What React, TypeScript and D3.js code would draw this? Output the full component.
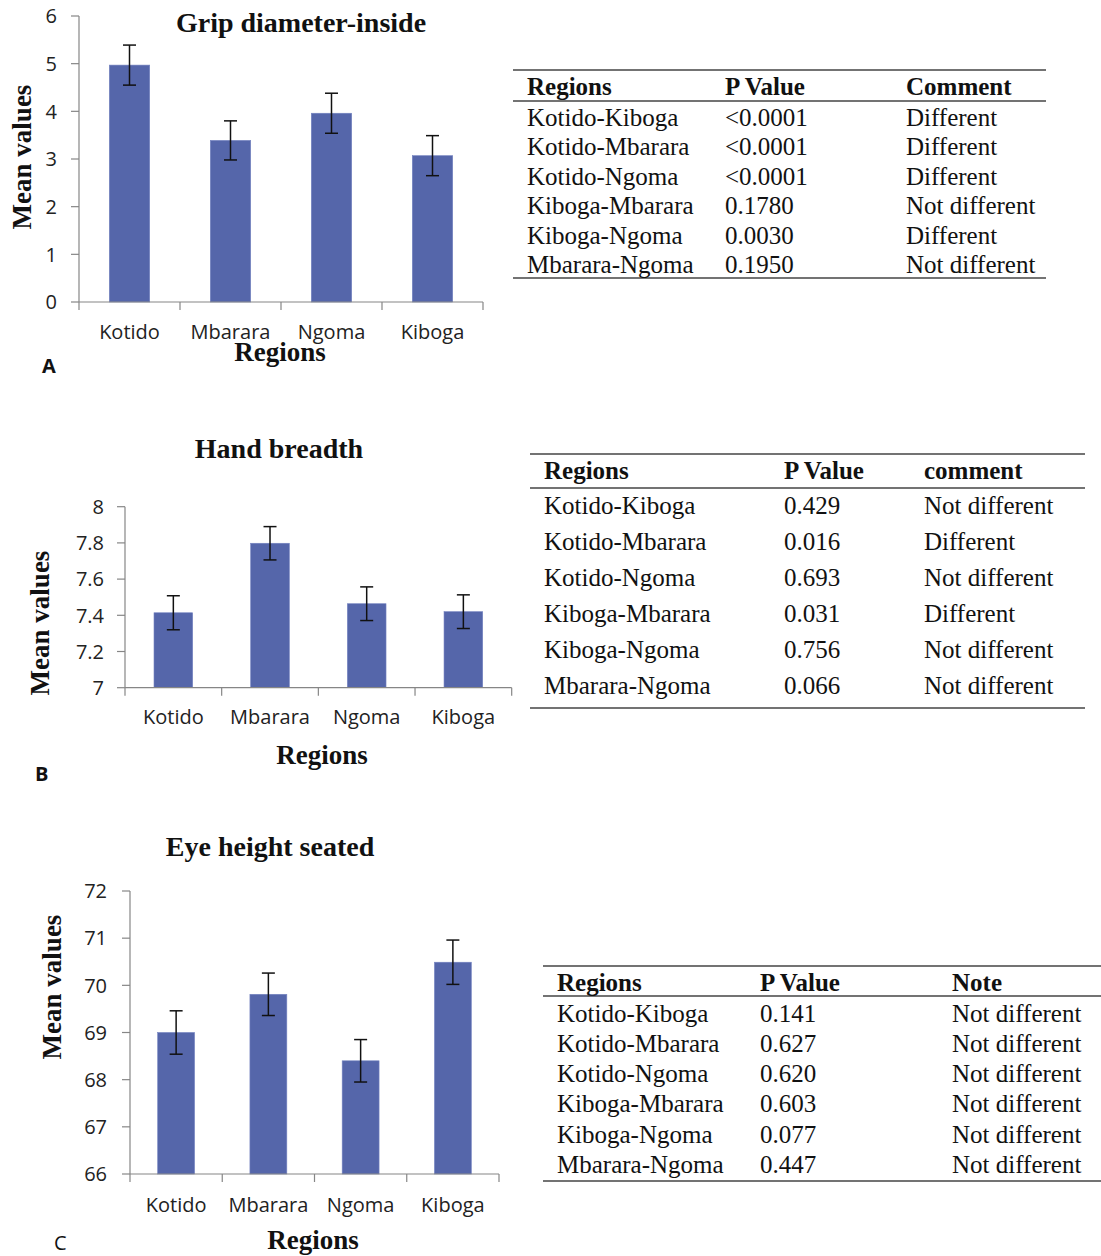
import React from 'react';
import * as d3 from 'd3';

// ---------- data ----------
const categories = ['Kotido', 'Mbarara', 'Ngoma', 'Kiboga'];

const gripMeans = [4.97, 3.39, 3.96, 3.07];
const gripErrors = [0.42, 0.41, 0.42, 0.42];
const gripTicks = [0, 1, 2, 3, 4, 5, 6];

const handMeans = [7.414, 7.798, 7.464, 7.42];
const handErrors = [0.094, 0.092, 0.093, 0.093];
const handTicks = [7, 7.2, 7.4, 7.6, 7.8, 8];

const eyeMeans = [69.0, 69.81, 68.4, 70.49];
const eyeErrors = [0.46, 0.45, 0.45, 0.47];
const eyeTicks = [66, 67, 68, 69, 70, 71, 72];

const pairs = ['Kotido-Kiboga', 'Kotido-Mbarara', 'Kotido-Ngoma', 'Kiboga-Mbarara', 'Kiboga-Ngoma', 'Mbarara-Ngoma'];
const gripP = ['<0.0001', '<0.0001', '<0.0001', '0.1780', '0.0030', '0.1950'];
const gripComment = ['Different', 'Different', 'Different', 'Not different', 'Different', 'Not different'];
const handP = ['0.429', '0.016', '0.693', '0.031', '0.756', '0.066'];
const handComment = ['Not different', 'Different', 'Not different', 'Different', 'Not different', 'Not different'];
const eyeP = ['0.141', '0.627', '0.620', '0.603', '0.077', '0.447'];
const eyeNote = ['Not different', 'Not different', 'Not different', 'Not different', 'Not different', 'Not different'];

const tableAHeaders = ['Regions', 'P Value', 'Comment'];
const tableBHeaders = ['Regions', 'P Value', 'comment'];
const tableCHeaders = ['Regions', 'P Value', 'Note'];

// ---------- styles ----------
const BAR = '#5566AA';
const AXIS = '#868686';
const SERIF = '"Liberation Serif", "Times New Roman", serif';
const SANS = '"Open Sans", "Noto Sans", sans-serif';

type PanelProps = {
  title: string;
  means: number[];
  errors: number[];
  ticks: number[];
  x0: number; x1: number; yTop: number; yBot: number;
  titlePos: [number, number];
  xLabelPos: [number, number];
  yLabelPos: [number, number];
  letter: string; letterPos: [number, number]; letterBold: boolean;
  tickLabelGap: number;
  xLabelOffset: number;
  fmt: (v: number) => string;
};

function BarPanel(p: PanelProps) {
  const x = d3.scaleBand<string>().domain(categories).range([p.x0, p.x1]).paddingInner(0.6).paddingOuter(0.3);
  const y = d3.scaleLinear().domain([p.ticks[0], p.ticks[p.ticks.length - 1]]).range([p.yBot, p.yTop]);
  const step = x.step();
  const bounds = d3.range(categories.length + 1).map(i => p.x0 + i * step);
  return (
    <g>
      <text x={p.titlePos[0]} y={p.titlePos[1]} textAnchor="middle" fontFamily={SERIF} fontWeight="bold" fontSize={28} fill="#111">{p.title}</text>
      {/* bars */}
      {categories.map((c, i) => (
        <rect key={c} x={x(c)} y={y(p.means[i])} width={x.bandwidth()} height={p.yBot - y(p.means[i])} fill={BAR} stroke="#7483c0" strokeWidth={0.6} />
      ))}
      {/* axes */}
      <line x1={p.x0} x2={p.x0} y1={p.yTop} y2={p.yBot} stroke={AXIS} strokeWidth={1.2} />
      <line x1={p.x0} x2={p.x1} y1={p.yBot} y2={p.yBot} stroke={AXIS} strokeWidth={1.2} />
      {p.ticks.map(t => (
        <g key={t}>
          <line x1={p.x0 - 8} x2={p.x0} y1={y(t)} y2={y(t)} stroke={AXIS} strokeWidth={1.2} />
          <text x={p.x0 - p.tickLabelGap} y={y(t)} dy="0.36em" textAnchor="end" fontFamily={SANS} fontSize={20} fill="#222">{p.fmt(t)}</text>
        </g>
      ))}
      {bounds.map((b, i) => (
        <line key={i} x1={b} x2={b} y1={p.yBot} y2={p.yBot + 8} stroke={AXIS} strokeWidth={1.2} />
      ))}
      {categories.map(c => (
        <text key={c} x={(x(c) as number) + x.bandwidth() / 2} y={p.yBot + p.xLabelOffset} textAnchor="middle" fontFamily={SANS} fontSize={20} fill="#222">{c}</text>
      ))}
      {/* error bars */}
      {categories.map((c, i) => {
        const cx = (x(c) as number) + x.bandwidth() / 2;
        const hi = y(p.means[i] + p.errors[i]);
        const lo = y(p.means[i] - p.errors[i]);
        return (
          <g key={c} stroke="#111" strokeWidth={1.5}>
            <line x1={cx} x2={cx} y1={hi} y2={lo} />
            <line x1={cx - 6.5} x2={cx + 6.5} y1={hi} y2={hi} />
            <line x1={cx - 6.5} x2={cx + 6.5} y1={lo} y2={lo} />
          </g>
        );
      })}
      <text x={p.xLabelPos[0]} y={p.xLabelPos[1]} textAnchor="middle" fontFamily={SERIF} fontWeight="bold" fontSize={27} fill="#111">Regions</text>
      <text transform={`translate(${p.yLabelPos[0]},${p.yLabelPos[1]}) rotate(-90)`} dy="0.35em" textAnchor="middle" fontFamily={SERIF} fontWeight="bold" fontSize={27} fill="#111">Mean values</text>
      <text x={p.letterPos[0]} y={p.letterPos[1]} fontFamily={SANS} fontWeight={p.letterBold ? 'bold' : 'normal'} fontSize={20} fill="#111">{p.letter}</text>
    </g>
  );
}

type TableProps = {
  headers: string[];
  col2: string[];
  col3: string[];
  lineX: [number, number];
  colX: number[];
  topY: number; headerY: number; headerLineY: number;
  firstRowY: number; rowStep: number; bottomY: number;
};

function Table(t: TableProps) {
  const rowY = d3.scaleLinear().domain([0, 1]).range([t.firstRowY, t.firstRowY + t.rowStep]);
  return (
    <g fontFamily={SERIF} fontSize={25} fill="#111">
      <line x1={t.lineX[0]} x2={t.lineX[1]} y1={t.topY} y2={t.topY} stroke="#444" strokeWidth={1.6} />
      <line x1={t.lineX[0]} x2={t.lineX[1]} y1={t.headerLineY} y2={t.headerLineY} stroke="#444" strokeWidth={1.6} />
      <line x1={t.lineX[0]} x2={t.lineX[1]} y1={t.bottomY} y2={t.bottomY} stroke="#444" strokeWidth={1.6} />
      {t.headers.map((h, i) => (
        <text key={h} x={t.colX[i]} y={t.headerY} dy="0.35em" fontWeight="bold">{h}</text>
      ))}
      {pairs.map((r, i) => (
        <g key={r}>
          <text x={t.colX[0]} y={rowY(i)} dy="0.35em">{r}</text>
          <text x={t.colX[1]} y={rowY(i)} dy="0.35em">{t.col2[i]}</text>
          <text x={t.colX[2]} y={rowY(i)} dy="0.35em">{t.col3[i]}</text>
        </g>
      ))}
    </g>
  );
}

export default function App() {
  return (
    <svg width={1101} height={1256} style={{ position: 'absolute', left: 0, top: 0, background: '#fff' }}>
      <rect width={1101} height={1256} fill="#fff" />
      <BarPanel title="Grip diameter-inside" means={gripMeans} errors={gripErrors} ticks={gripTicks}
        x0={79} x1={483} yTop={16} yBot={302}
        titlePos={[301, 32]} xLabelPos={[280, 361]} yLabelPos={[22, 157]}
        letter="A" letterPos={[42, 373]} letterBold={true} tickLabelGap={22} xLabelOffset={37}
        fmt={d3.format('d')} />
      <BarPanel title="Hand breadth" means={handMeans} errors={handErrors} ticks={handTicks}
        x0={125} x1={511.7} yTop={506.7} yBot={687.7}
        titlePos={[279, 458]} xLabelPos={[322, 764]} yLabelPos={[40, 623]}
        letter="B" letterPos={[35, 781]} letterBold={true} tickLabelGap={21} xLabelOffset={36}
        fmt={d3.format('.1~f')} />
      <BarPanel title="Eye height seated" means={eyeMeans} errors={eyeErrors} ticks={eyeTicks}
        x0={130} x1={499} yTop={891} yBot={1174}
        titlePos={[270, 856]} xLabelPos={[313, 1249]} yLabelPos={[52, 987]}
        letter="C" letterPos={[54, 1250]} letterBold={false} tickLabelGap={23} xLabelOffset={38}
        fmt={d3.format('d')} />
      <Table headers={tableAHeaders} col2={gripP} col3={gripComment}
        lineX={[513, 1046]} colX={[527, 725, 906]}
        topY={70} headerY={86} headerLineY={101} firstRowY={117} rowStep={29.5} bottomY={278} />
      <Table headers={tableBHeaders} col2={handP} col3={handComment}
        lineX={[530, 1085]} colX={[544, 784, 924]}
        topY={454} headerY={470} headerLineY={488} firstRowY={505} rowStep={36} bottomY={708} />
      <Table headers={tableCHeaders} col2={eyeP} col3={eyeNote}
        lineX={[543, 1101]} colX={[557, 760, 952]}
        topY={966} headerY={982} headerLineY={996} firstRowY={1013} rowStep={30.2} bottomY={1181} />
    </svg>
  );
}
